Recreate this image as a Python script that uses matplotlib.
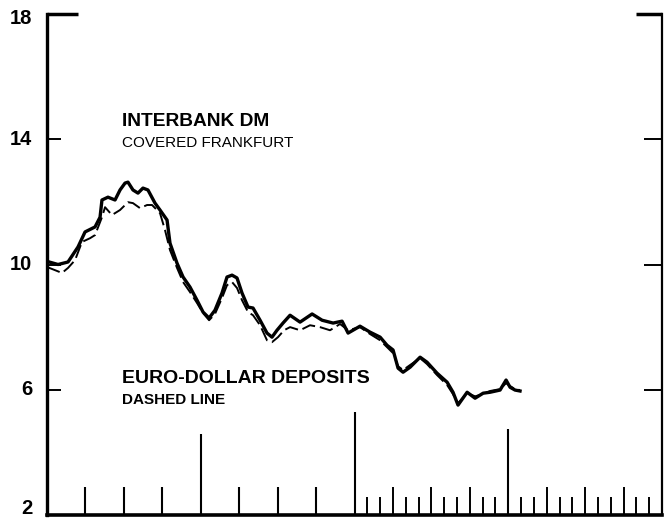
import matplotlib.pyplot as plt
import matplotlib.transforms as mtransforms
import numpy as np

plt.rcParams['font.family'] = ['Liberation Sans', 'DejaVu Sans']

# months from start of chart
dm_months = [0.0, 0.86, 1.64, 2.42, 2.97, 3.75, 4.14, 4.29, 4.76, 5.31, 5.70, 6.09, 6.32,
             6.71, 7.10, 7.49, 7.88, 8.43, 8.82, 9.37, 9.60, 10.15, 10.62, 11.16, 11.71,
             12.18, 12.65, 13.11, 13.66, 14.05, 14.44, 14.83, 15.22, 15.69, 16.08, 16.63,
             17.17, 17.56, 17.95, 18.42, 18.97, 19.75, 20.69, 21.47, 22.33, 23.03, 23.50,
             24.43, 25.21, 26.00, 26.54, 27.01, 27.40, 27.79, 28.34, 29.12, 29.66, 30.44,
             31.23, 31.69, 32.08, 32.79, 33.41, 34.04, 34.58, 35.36, 35.83, 36.14, 36.53, 36.92]
dm_rate = [10.10, 10.00, 10.08, 10.56, 11.04, 11.20, 11.51, 12.06, 12.15, 12.06, 12.38, 12.60,
           12.63, 12.38, 12.28, 12.44, 12.38, 11.96, 11.74, 11.42, 10.68, 10.04, 9.60, 9.28,
           8.86, 8.48, 8.29, 8.54, 9.09, 9.60, 9.66, 9.57, 9.09, 8.64, 8.61, 8.22, 7.81, 7.68,
           7.90, 8.13, 8.38, 8.16, 8.42, 8.22, 8.13, 8.19, 7.81, 8.03, 7.84, 7.68, 7.42, 7.27,
           6.69, 6.56, 6.72, 7.04, 6.88, 6.53, 6.24, 5.92, 5.51, 5.92, 5.73, 5.89, 5.92, 5.99,
           6.31, 6.08, 5.99, 5.96]

ed_months = [0.0, 0.62, 1.17, 1.64, 2.19, 2.73, 3.36, 3.75, 4.29, 4.53, 5.07, 5.70, 6.32,
             6.71, 7.26, 7.81, 8.20, 8.82, 9.21, 9.60, 10.15, 10.62, 11.16, 11.71, 12.18,
             12.65, 13.11, 13.66, 14.05, 14.44, 14.83, 15.22, 15.69, 16.08, 16.63, 17.17,
             17.56, 18.03, 18.50, 18.97, 19.75, 20.53, 21.31, 22.09, 22.87, 23.50, 24.43,
             25.21, 26.00, 26.54, 27.01, 27.40, 27.79, 28.34, 29.12, 29.66, 30.44, 31.23,
             31.69, 32.08, 32.79, 33.41, 34.04, 34.58, 35.36, 35.83, 36.14, 36.53, 36.92]
ed_rate = [9.92, 9.82, 9.73, 9.89, 10.14, 10.72, 10.84, 10.94, 11.51, 11.83, 11.58, 11.74,
           11.99, 11.96, 11.80, 11.90, 11.90, 11.64, 11.10, 10.46, 9.89, 9.44, 9.12, 8.77,
           8.45, 8.22, 8.42, 8.93, 9.34, 9.44, 9.25, 8.86, 8.48, 8.38, 8.06, 7.58, 7.52, 7.68,
           7.90, 8.00, 7.90, 8.06, 8.00, 7.90, 8.10, 7.90, 8.00, 7.78, 7.58, 7.36, 7.17, 6.75,
           6.63, 6.79, 7.01, 6.82, 6.47, 6.15, 5.86, 5.57, 5.89, 5.79, 5.86, 5.96, 6.02, 6.21,
           6.12, 6.02, 5.99]

y_ticks = [2, 6, 10, 14, 18]
y_labels = ['2', '6', '10', '14', '18']
year_marks = [12, 24, 36]
year_mark_tops = [4.6, 5.3, 4.75]

fig = plt.figure(figsize=(6.64, 5.22), dpi=100)
ax = fig.add_axes([47 / 664, 7 / 522, 615 / 664, 501 / 522])
ax.set_xlim(0, 48)
ax.set_ylim(2, 18)

ax.plot(dm_months, dm_rate, color='black', lw=2.4, solid_joinstyle='round')
ax.plot(ed_months, ed_rate, color='black', lw=1.4, dashes=(7, 2.5))

# bottom time ticks: quarterly for first two years, monthly after
for m in range(3, 24, 3):
    if m not in year_marks:
        ax.vlines(m, 2, 2.9, color='black', lw=1.5)
for m in range(25, 48):
    if m in year_marks:
        continue
    top = 2.9 if m % 3 == 0 else 2.58
    ax.vlines(m, 2, top, color='black', lw=1.4)
for m, t in zip(year_marks, year_mark_tops):
    ax.vlines(m, 2, t, color='black', lw=1.5)

# inward ticks on both sides
for yv in [6, 10, 14]:
    ax.hlines(yv, 0, 1.1, color='black', lw=1.4)
    ax.hlines(yv, 46.6, 48, color='black', lw=1.4)
ax.hlines(18, 0, 2.4, color='black', lw=2.5, clip_on=False)
ax.hlines(18, 46.0, 48, color='black', lw=2.5, clip_on=False)

ax.spines['top'].set_visible(False)
ax.spines['left'].set_linewidth(2.4)
ax.spines['bottom'].set_linewidth(2.6)
ax.spines['right'].set_linewidth(1.6)

ax.set_xticks([])
ax.set_yticks([])

# y labels, the end ones nudged inside the picture like the original
trans = mtransforms.blended_transform_factory(ax.transAxes, ax.transData)
nudge = {2: 6, 18: -4}
for v, lab in zip(y_ticks, y_labels):
    t = mtransforms.offset_copy(trans, fig=fig, x=-15, y=nudge.get(v, 0), units='dots')
    ax.text(0, v, lab, transform=t, ha='right', va='center',
            fontsize=14.5, fontweight='bold', clip_on=False)

ax.text(5.86, 14.58, 'INTERBANK DM', fontsize=13.8, fontweight='bold', va='center')
ax.text(5.86, 13.88, 'COVERED FRANKFURT', fontsize=11, va='center')
ax.text(5.86, 6.37, 'EURO-DOLLAR DEPOSITS', fontsize=14, fontweight='bold', va='center')
ax.text(5.86, 5.67, 'DASHED LINE', fontsize=11, fontweight='bold', va='center')

fig.savefig('out.png', dpi=100)
